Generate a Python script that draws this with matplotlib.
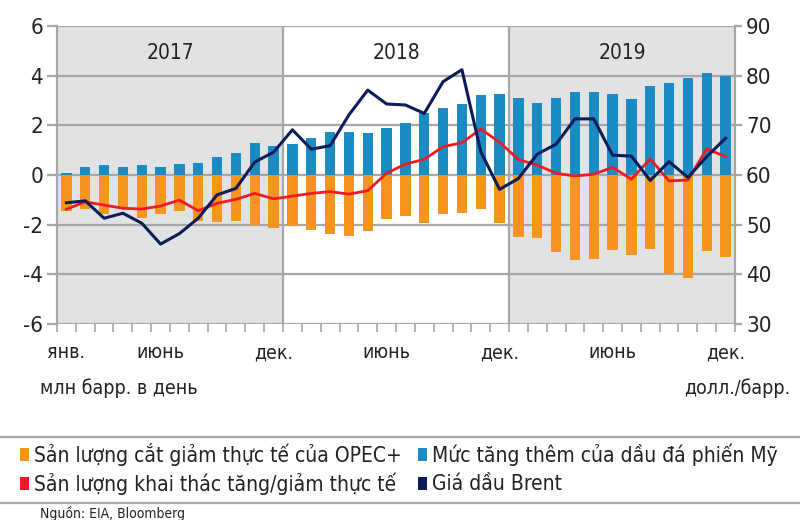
import matplotlib
matplotlib.use('Agg')
import matplotlib.pyplot as plt
import numpy as np
from matplotlib.lines import Line2D
from matplotlib.patches import Rectangle

plt.rcParams['font.family'] = ['DejaVu Sans']
plt.rcParams['font.stretch'] = 'condensed'
plt.rcParams['axes.unicode_minus'] = False

# data, Jan 2017 .. Dec 2019
years = ['2017', '2018', '2019']
month_labels = ['янв.', 'июнь', 'дек.', 'июнь', 'дек.', 'июнь', 'дек.']
month_label_idx = [0, 5, 11, 17, 23, 29, 35]

us_shale = [0.08, 0.31, 0.39, 0.33, 0.42, 0.33, 0.44, 0.48, 0.73, 0.87, 1.28, 1.18,
            1.25, 1.50, 1.72, 1.72, 1.68, 1.88, 2.11, 2.49, 2.71, 2.85, 3.21, 3.25,
            3.09, 2.89, 3.12, 3.33, 3.33, 3.27, 3.05, 3.60, 3.70, 3.90, 4.10, 4.00]
opec_cut = [-1.45, -1.38, -1.58, -1.37, -1.75, -1.57, -1.45, -1.84, -1.88, -1.84, -2.02, -2.15,
            -2.04, -2.22, -2.37, -2.47, -2.26, -1.79, -1.64, -1.94, -1.59, -1.55, -1.38, -1.92,
            -2.49, -2.53, -3.12, -3.43, -3.39, -3.00, -3.24, -2.97, -4.00, -4.13, -3.06, -3.29]
actual_change = [-1.38, -1.08, -1.21, -1.34, -1.37, -1.25, -1.01, -1.44, -1.14, -0.98, -0.74, -0.96,
                 -0.85, -0.74, -0.67, -0.77, -0.63, 0.07, 0.44, 0.63, 1.14, 1.30, 1.85, 1.32,
                 0.62, 0.40, 0.07, -0.04, 0.03, 0.31, -0.17, 0.65, -0.24, -0.20, 1.05, 0.74]
brent = [54.4, 54.8, 51.3, 52.3, 50.3, 46.1, 48.2, 51.3, 56.0, 57.3, 62.6, 64.6,
         69.1, 65.2, 65.9, 72.1, 77.1, 74.3, 74.1, 72.4, 78.8, 81.2, 64.7, 57.1,
         59.3, 64.2, 66.2, 71.3, 71.3, 64.0, 63.8, 58.9, 62.7, 59.5, 63.7, 67.4]

c_orange = '#f7941d'
c_blue = '#1b8bc4'
c_red = '#ec1c24'
c_navy = '#0c1c5a'
c_grid = '#a7a7a9'
c_shade = '#e1e2e4'
c_text = '#222222'

x = np.arange(len(us_shale))

fig = plt.figure(figsize=(8, 5.2), dpi=100)
ax = fig.add_axes([57 / 800, 1 - 324 / 520, 678 / 800, 298 / 520])
ax2 = ax.twinx()

# shaded years 2017 and 2019
ax.axvspan(-0.5, 11.5, color=c_shade, lw=0, zorder=0)
ax.axvspan(23.5, 35.5, color=c_shade, lw=0, zorder=0)
for b in [11.5, 23.5]:
    ax.axvline(b, color=c_grid, lw=1.6, zorder=1)
for i, y in enumerate(years):
    ax.text(5.5 + 12 * i, 4.9, y, ha='center', va='center', fontsize=15, color=c_text)

ax.set_axisbelow(True)
ax.yaxis.grid(True, color=c_grid, lw=1.6)
ax.bar(x, us_shale, width=0.55, color=c_blue, zorder=2)
ax.bar(x, opec_cut, width=0.55, color=c_orange, zorder=2)
ax.plot(x, actual_change, color=c_red, lw=2.0, zorder=4)
ax2.plot(x, brent, color=c_navy, lw=2.2, zorder=5)

ax.set_xlim(-0.5, 35.5)
ax.set_ylim(-6, 6)
ax2.set_ylim(30, 90)
ax.set_yticks(np.arange(-6, 7, 2))
ax2.set_yticks(np.arange(30, 91, 10))

for a in (ax, ax2):
    for s in a.spines.values():
        s.set_visible(False)
for side in ['left', 'right']:
    ax.spines[side].set_visible(True)
    ax.spines[side].set_color(c_grid)
    ax.spines[side].set_linewidth(1.6)

ax.tick_params(axis='y', length=7, width=1.6, color=c_grid, labelsize=16, pad=3,
               labelcolor=c_text)
ax2.tick_params(axis='y', length=5, width=1.6, color=c_grid, labelsize=16, pad=3,
                labelcolor=c_text)

ax.set_xticks(month_label_idx)
ax.set_xticklabels(month_labels)
ax.set_xticks(np.arange(-0.5, 36, 1), minor=True)
ax.tick_params(axis='x', which='major', length=0, labelsize=14, pad=14, labelcolor=c_text)
ax.tick_params(axis='x', which='minor', length=6, width=1.2, color=c_grid)

fig.text(40 / 800, 1 - 388 / 520, 'млн барр. в день', fontsize=14, va='center', ha='left',
         color=c_text)
fig.text(790 / 800, 1 - 388 / 520, 'долл./барр.', fontsize=14, va='center', ha='right',
         color=c_text)

# legend block
for yy in [437, 503]:
    fig.add_artist(Line2D([0, 1], [1 - yy / 520] * 2, transform=fig.transFigure,
                          color=c_grid, lw=1.6))
legend_items = [
    (20, 455, c_orange, 'Sản lượng cắt giảm thực tế của OPEC+'),
    (418, 455, c_blue, 'Mức tăng thêm của dầu đá phiến Mỹ'),
    (20, 484, c_red, 'Sản lượng khai thác tăng/giảm thực tế'),
    (418, 484, c_navy, 'Giá dầu Brent'),
]
for px, py, col, lab in legend_items:
    fig.add_artist(Rectangle((px / 800, 1 - (py + 6) / 520), 9 / 800, 13 / 520,
                             transform=fig.transFigure, color=col, lw=0))
    fig.text((px + 14) / 800, 1 - py / 520, lab, fontsize=15, va='center', ha='left',
             color=c_text)

fig.text(40 / 800, 1 - 506 / 520, 'Nguồn: EIA, Bloomberg', fontsize=10, va='top', ha='left',
         color=c_text)

fig.savefig('out.png', dpi=100)
